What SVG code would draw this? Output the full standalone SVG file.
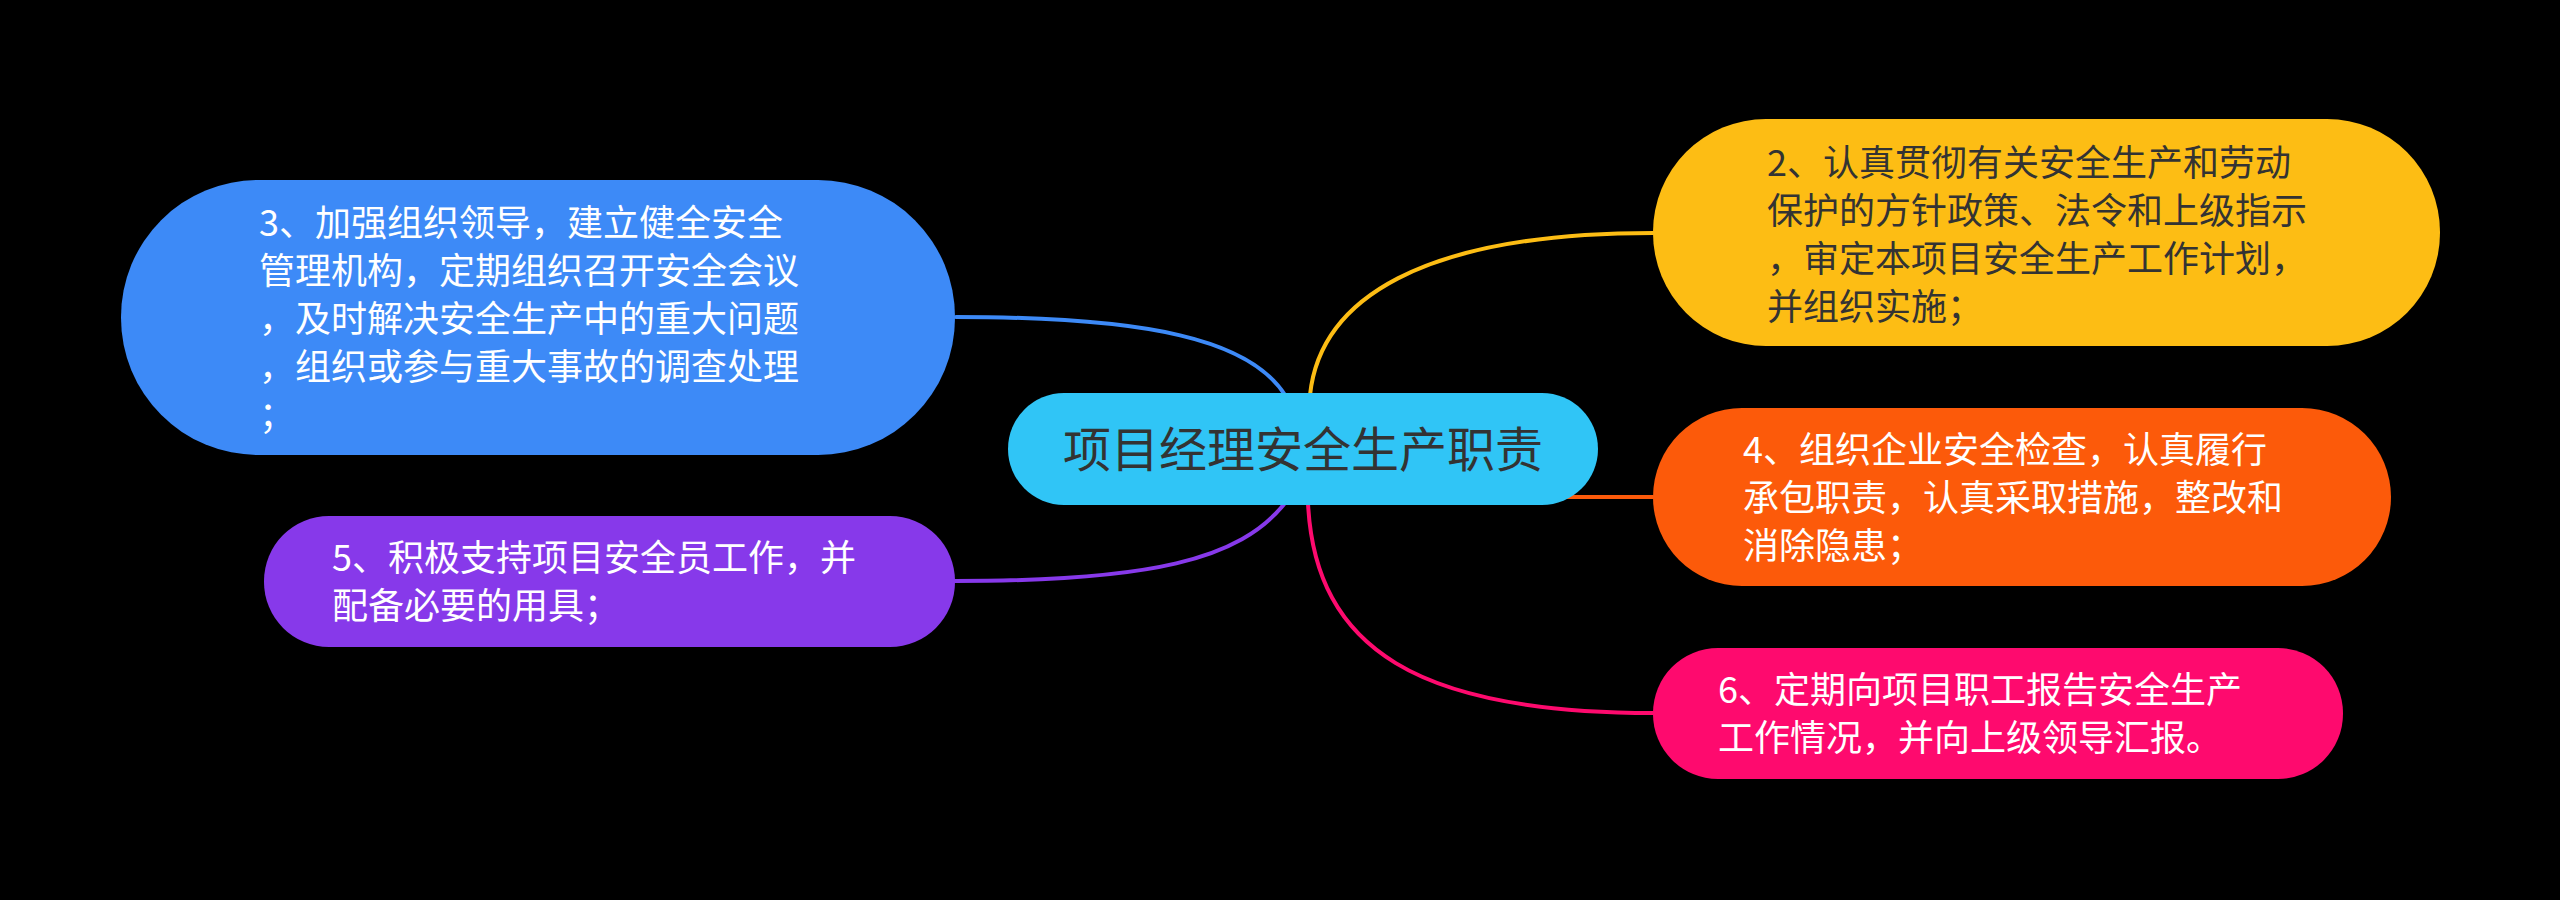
<svg xmlns="http://www.w3.org/2000/svg" width="2560" height="900" viewBox="0 0 2560 900">
  <style>
    .t { font-family: "Noto Sans CJK SC", "Noto Sans", sans-serif; font-size: 36px; }
    .w { fill: #ffffff; }
    .d { fill: #333333; }
    .c { fill: none; stroke-width: 4; stroke-linecap: round; }
  </style>
  <rect x="0" y="0" width="2560" height="900" fill="#000000"/>
  <g id="connectors">
    <path class="c" stroke="#3D8AF7" d="M956,317 C1150,317 1250,340 1285,395"/>
    <path class="c" stroke="#FDBD14" d="M1310,395 C1320,300 1420,233 1653,233"/>
    <path class="c" stroke="#FC5A0A" d="M1560,497 L1653,497"/>
    <path class="c" stroke="#8739EA" d="M1285,503 C1240,560 1150,581 955,581"/>
    <path class="c" stroke="#FE0A6E" d="M1308,503 C1315,650 1420,713 1653,713"/>
  </g>
  <g id="center">
    <rect x="1008" y="393" width="590" height="112" rx="56" ry="56" fill="#30C5F6"/>
    <text class="t d" x="1303" y="467" text-anchor="middle" style="font-size:48px">项目经理安全生产职责</text>
  </g>
  <g id="node3">
    <rect x="121" y="180" width="834" height="275" rx="137" ry="137" fill="#3D8AF7"/>
    <text class="t w" x="259">
      <tspan x="259" y="236">3、加强组织领导，建立健全安全</tspan>
      <tspan x="259" y="284">管理机构，定期组织召开安全会议</tspan>
      <tspan x="259" y="332">，及时解决安全生产中的重大问题</tspan>
      <tspan x="259" y="380">，组织或参与重大事故的调查处理</tspan>
      <tspan x="259" y="428">；</tspan>
    </text>
  </g>
  <g id="node5">
    <rect x="264" y="516" width="691" height="131" rx="65" ry="65" fill="#8739EA"/>
    <text class="t w">
      <tspan x="332" y="571">5、积极支持项目安全员工作，并</tspan>
      <tspan x="332" y="619">配备必要的用具；</tspan>
    </text>
  </g>
  <g id="node2">
    <rect x="1653" y="119" width="787" height="227" rx="113" ry="113" fill="#FDBD14"/>
    <text class="t d">
      <tspan x="1767" y="176">2、认真贯彻有关安全生产和劳动</tspan>
      <tspan x="1767" y="224">保护的方针政策、法令和上级指示</tspan>
      <tspan x="1767" y="272">，审定本项目安全生产工作计划，</tspan>
      <tspan x="1767" y="320">并组织实施；</tspan>
    </text>
  </g>
  <g id="node4">
    <rect x="1653" y="408" width="738" height="178" rx="89" ry="89" fill="#FC5A0A"/>
    <text class="t w">
      <tspan x="1743" y="463">4、组织企业安全检查，认真履行</tspan>
      <tspan x="1743" y="511">承包职责，认真采取措施，整改和</tspan>
      <tspan x="1743" y="559">消除隐患；</tspan>
    </text>
  </g>
  <g id="node6">
    <rect x="1653" y="648" width="690" height="131" rx="65" ry="65" fill="#FE0A6E"/>
    <text class="t w">
      <tspan x="1718" y="703">6、定期向项目职工报告安全生产</tspan>
      <tspan x="1718" y="751">工作情况，并向上级领导汇报。</tspan>
    </text>
  </g>
</svg>
